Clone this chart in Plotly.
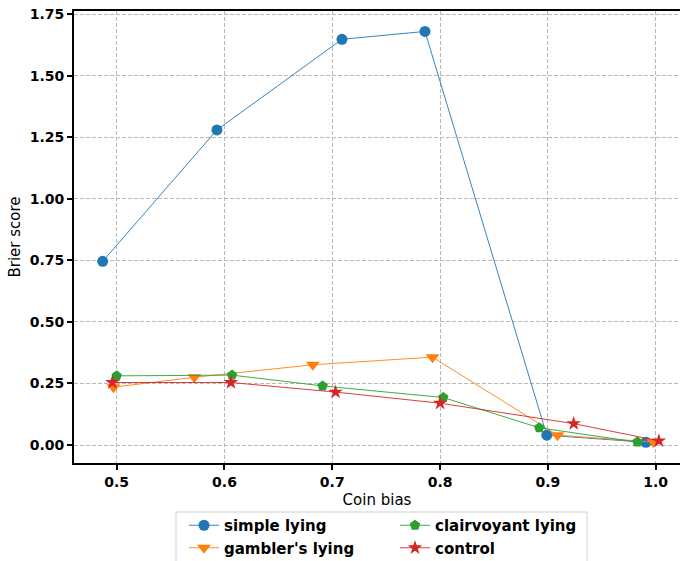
import plotly.graph_objects as go

# Data
simple_x = [0.487, 0.593, 0.709, 0.786, 0.899, 0.991]
simple_y = [0.746, 1.280, 1.648, 1.680, 0.040, 0.011]

gambler_x = [0.497, 0.572, 0.682, 0.793, 0.909, 0.998]
gambler_y = [0.235, 0.275, 0.326, 0.357, 0.040, 0.012]

clair_x = [0.500, 0.607, 0.691, 0.803, 0.892, 0.983]
clair_y = [0.281, 0.284, 0.240, 0.193, 0.070, 0.012]

control_x = [0.496, 0.606, 0.703, 0.800, 0.924, 1.003]
control_y = [0.254, 0.254, 0.215, 0.170, 0.087, 0.017]

x_ticks = [0.5, 0.6, 0.7, 0.8, 0.9, 1.0]
x_ticklabels = ["0.5", "0.6", "0.7", "0.8", "0.9", "1.0"]
y_ticks = [0.0, 0.25, 0.5, 0.75, 1.0, 1.25, 1.5, 1.75]
y_ticklabels = ["0.00", "0.25", "0.50", "0.75", "1.00", "1.25", "1.50", "1.75"]

BLUE, ORANGE, GREEN, RED = "#1f77b4", "#ff7f0e", "#2ca02c", "#d62728"
FONT = "DejaVu Sans"

fig = go.Figure()
fig.add_trace(go.Scatter(x=simple_x, y=simple_y, mode="lines+markers", name="simple lying",
                         line=dict(color=BLUE, width=0.9),
                         marker=dict(symbol="circle", size=11, color=BLUE), legend="legend"))
fig.add_trace(go.Scatter(x=gambler_x, y=gambler_y, mode="lines+markers", name="gambler's lying",
                         line=dict(color=ORANGE, width=0.9),
                         marker=dict(symbol="triangle-down", size=12, color=ORANGE), legend="legend"))
fig.add_trace(go.Scatter(x=clair_x, y=clair_y, mode="lines+markers", name="clairvoyant lying",
                         line=dict(color=GREEN, width=0.9),
                         marker=dict(symbol="pentagon", size=11, color=GREEN), legend="legend2"))
fig.add_trace(go.Scatter(x=control_x, y=control_y, mode="lines+markers", name="control",
                         line=dict(color=RED, width=0.9),
                         marker=dict(symbol="star", size=11, color=RED), legend="legend2"))

L, T, W, H = 74, 11, 606, 452

def px_x(p):
    return (p - L) / W

def px_y(p):
    return (T + H - p) / H

legend_common = dict(orientation="v", yanchor="top", xanchor="left",
                     font=dict(family=FONT, size=15, color="black", weight="bold"),
                     bgcolor="rgba(0,0,0,0)", borderwidth=0, tracegroupgap=0,
                     itemwidth=30)

fig.update_layout(
    width=680, height=561,
    margin=dict(l=L, r=0, t=T, b=561 - T - H, pad=0, autoexpand=False),
    paper_bgcolor="white", plot_bgcolor="white",
    font=dict(family=FONT, color="black"),
    showlegend=True,
    legend=dict(x=px_x(184), y=px_y(509), **legend_common),
    legend2=dict(x=px_x(395), y=px_y(509), **legend_common),
    xaxis=dict(range=[0.4604, 1.0226], tickvals=x_ticks, ticktext=x_ticklabels,
               tickfont=dict(family=FONT, size=14, color="black", weight="bold"),
               ticks="outside", ticklen=5, tickwidth=1.5, tickcolor="black",
               showline=True, linecolor="black", linewidth=2, mirror=True,
               showgrid=True, gridcolor="#b8b8b8", gridwidth=1, griddash="4px,2px",
               zeroline=False,
               title=dict(text="Coin bias", font=dict(family=FONT, size=15, color="black"), standoff=6)),
    yaxis=dict(range=[-0.073, 1.763], tickvals=y_ticks, ticktext=y_ticklabels,
               tickfont=dict(family=FONT, size=14, color="black", weight="bold"),
               ticks="outside", ticklen=5, tickwidth=1.5, tickcolor="black",
               showline=True, linecolor="black", linewidth=2, mirror=False,
               showgrid=True, gridcolor="#b8b8b8", gridwidth=1, griddash="4px,2px",
               zeroline=False,
               title=dict(text="Brier score", font=dict(family=FONT, size=15, color="black"), standoff=5)),
    shapes=[dict(type="rect", xref="paper", yref="paper",
                 x0=px_x(176), x1=px_x(587), y0=px_y(512), y1=px_y(575),
                 line=dict(color="#d0d0d0", width=1), fillcolor="rgba(255,255,255,0.8)",
                 layer="below")],
)

fig.write_html("out.html", config={"displayModeBar": False},
               post_script="document.body.style.margin='0';")
